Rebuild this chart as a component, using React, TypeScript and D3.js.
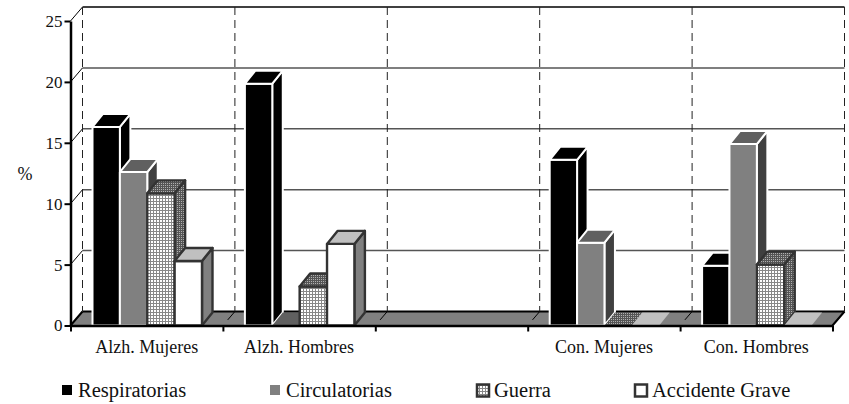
import React, { useEffect, useRef } from 'react';
import * as d3 from 'd3';

const categories = ['Alzh. Mujeres', 'Alzh. Hombres', '', 'Con. Mujeres', 'Con. Hombres'];
const seriesNames = ['Respiratorias', 'Circulatorias', 'Guerra', 'Accidente Grave'];

const respiratorias = [16.3, 19.85, null, 13.6, 4.9];
const circulatorias = [12.6, 0, null, 6.8, 14.9];
const guerra = [10.85, 3.2, null, 0, 5.0];
const accidente = [5.3, 6.7, null, 0, 0];
const allSeries = [respiratorias, circulatorias, guerra, accidente];

const yTicks = [0, 5, 10, 15, 20, 25];

const faceStyles = [
  { front: '#000', top: '#000', side: '#000', stroke: '#fff', sw: 2 },
  { front: '#808080', top: '#606060', side: '#404040', stroke: '#fff', sw: 2 },
  { front: 'url(#gridLight)', top: 'url(#gridDark)', side: 'url(#gridDark)', stroke: '#333', sw: 2.4 },
  { front: '#fff', top: '#c0c0c0', side: '#808080', stroke: '#333', sw: 2.4 },
];

const legendX = [62, 270, 476, 634];

const App: React.FC = () => {
  const ref = useRef<SVGSVGElement | null>(null);

  useEffect(() => {
    if (!ref.current) return;
    const svg = d3.select(ref.current);
    svg.selectAll('*').remove();

    const font = '"Liberation Serif", serif';
    const left = 70.5;
    const right = 832.5;
    const bottom = 325.5;
    const top = 21;
    const wallX = 12;
    const wallY = -14;
    const barX = 10.5;
    const barY = -13;

    const x = d3.scaleBand<string>().domain(categories.map((_, i) => String(i))).range([left, right]);
    const inner = d3.scaleBand<string>().domain(seriesNames).range([22, 131.5]);
    const y = d3.scaleLinear().domain([0, 25]).range([bottom, top]);

    // patterns for the Guerra bars
    const defs = svg.append('defs');
    const addGrid = (id: string, size: number, bg: string, ink: string) => {
      const p = defs.append('pattern')
        .attr('id', id)
        .attr('patternUnits', 'userSpaceOnUse')
        .attr('width', size)
        .attr('height', size);
      p.append('rect').attr('width', size).attr('height', size).attr('fill', bg);
      p.append('path')
        .attr('d', `M0 0.5H${size}M0.5 0V${size}`)
        .attr('stroke', ink)
        .attr('stroke-width', 1);
    };
    addGrid('gridLight', 3, '#fff', '#888');
    addGrid('gridDark', 2, '#b0b0b0', '#555');

    // walls
    const wallTicks = yTicks.filter(t => t > 0);
    svg.append('g').selectAll('line').data(wallTicks).join('line')
      .attr('x1', left + wallX).attr('x2', right + wallX)
      .attr('y1', d => y(d) + wallY).attr('y2', d => y(d) + wallY)
      .attr('stroke', d => (d === 25 ? '#000' : '#555'))
      .attr('stroke-width', 1.5);
    svg.append('g').selectAll('line').data(wallTicks).join('line')
      .attr('x1', left).attr('x2', left + wallX)
      .attr('y1', d => y(d)).attr('y2', d => y(d) + wallY)
      .attr('stroke', '#000')
      .attr('stroke-width', 1);

    // floor
    svg.append('path')
      .attr('d', `M${left} ${bottom}L${left + wallX} ${bottom + wallY}H${right + wallX}L${right} ${bottom}Z`)
      .attr('fill', '#808080');
    svg.append('line')
      .attr('x1', left + wallX).attr('x2', right + wallX)
      .attr('y1', bottom + wallY).attr('y2', bottom + wallY)
      .attr('stroke', '#000').attr('stroke-width', 2);
    svg.append('path')
      .attr('d', `M${left} ${bottom}L${left + wallX} ${bottom + wallY}M${right} ${bottom}L${right + wallX} ${bottom + wallY}`)
      .attr('stroke', '#000').attr('stroke-width', 2);

    // dashed category lines on back wall, with short slant on the floor
    const edges = [...categories.map((_, i) => x(String(i)) as number), right];
    svg.append('g').selectAll('line').data(edges).join('line')
      .attr('x1', d => d + wallX).attr('x2', d => d + wallX)
      .attr('y1', top + wallY).attr('y2', bottom + wallY)
      .attr('stroke', '#222')
      .attr('stroke-dasharray', '8,5')
      .attr('stroke-width', 1);
    svg.append('g').selectAll('line').data(edges.slice(1, -1)).join('line')
      .attr('x1', d => d + wallX * 0.4).attr('x2', d => d + wallX)
      .attr('y1', bottom + wallY * 0.4).attr('y2', bottom + wallY)
      .attr('stroke', '#000')
      .attr('stroke-width', 1);

    // bars, back to front in series order
    const bars = svg.append('g');
    categories.forEach((_, c) => {
      const cx = x(String(c)) as number;
      seriesNames.forEach((name, s) => {
        const v = allSeries[s][c];
        if (v === null) return;
        const st = faceStyles[s];
        const x0 = cx + (inner(name) as number);
        const x1 = x0 + inner.bandwidth();
        const yv = y(v);
        const g = bars.append('g')
          .attr('stroke', st.stroke)
          .attr('stroke-width', st.sw)
          .attr('stroke-linejoin', 'round');
        if (v > 0) {
          g.append('path')
            .attr('d', `M${x1} ${bottom}V${yv}L${x1 + barX} ${yv + barY}V${bottom + barY}Z`)
            .attr('fill', st.side);
          g.append('rect')
            .attr('x', x0).attr('y', yv)
            .attr('width', x1 - x0).attr('height', bottom - yv)
            .attr('fill', st.front);
        }
        g.append('path')
          .attr('d', `M${x0} ${yv}L${x0 + barX} ${yv + barY}H${x1 + barX}L${x1} ${yv}Z`)
          .attr('fill', st.top)
          .attr('stroke', v > 0 ? st.stroke : 'none');
      });
    });

    // axes
    const yAxis = svg.append('g')
      .attr('transform', `translate(${left},0)`)
      .call(d3.axisLeft(y).tickValues(yTicks).tickSize(6).tickPadding(2).tickSizeOuter(0));
    yAxis.attr('font-family', font).attr('font-size', 17);
    yAxis.select('.domain').attr('stroke', '#000').attr('stroke-width', 2.5);
    yAxis.selectAll('.tick line').attr('stroke', '#000').attr('stroke-width', 2);
    yAxis.selectAll('text').attr('fill', '#111');

    const xEdge = d3.scaleLinear().domain([0, categories.length]).range([left, right]);
    const xAxis = svg.append('g')
      .attr('transform', `translate(0,${bottom})`)
      .call(d3.axisBottom(xEdge).tickValues(d3.range(categories.length + 1)).tickFormat(() => '').tickSize(6).tickSizeOuter(0));
    xAxis.select('.domain').attr('stroke', '#000').attr('stroke-width', 2.5);
    xAxis.selectAll('.tick line').attr('stroke', '#000').attr('stroke-width', 2);

    svg.append('g').selectAll('text').data(categories).join('text')
      .attr('x', (_, i) => (x(String(i)) as number) + x.bandwidth() / 2)
      .attr('y', 353)
      .attr('text-anchor', 'middle')
      .attr('font-family', font)
      .attr('font-size', 18)
      .attr('fill', '#111')
      .text(d => d);

    svg.append('text')
      .attr('x', 25).attr('y', 180)
      .attr('text-anchor', 'middle')
      .attr('font-family', font)
      .attr('font-size', 18)
      .attr('fill', '#111')
      .text('%');

    // legend
    const legend = svg.append('g').selectAll('g').data(seriesNames).join('g')
      .attr('transform', (_, i) => `translate(${legendX[i]},385)`);
    legend.append('rect')
      .attr('x', (_, i) => (i < 2 ? 0 : 1))
      .attr('y', (_, i) => (i < 2 ? 0 : -0.5))
      .attr('width', (_, i) => (i < 2 ? 10 : 12))
      .attr('height', (_, i) => (i < 2 ? 10 : 12))
      .attr('fill', (_, i) => faceStyles[i].front)
      .attr('stroke', (_, i) => (i < 2 ? 'none' : '#333'))
      .attr('stroke-width', 2.5);
    legend.append('text')
      .attr('x', (_, i) => (i < 2 ? 16 : 18))
      .attr('y', 12)
      .attr('font-family', font)
      .attr('font-size', 20.5)
      .attr('fill', '#111')
      .text(d => d);
  }, []);

  return (
    <svg
      ref={ref}
      width={849}
      height={404}
      style={{ position: 'absolute', left: 0, top: 0, background: '#fff' }}
    />
  );
};

export default App;
